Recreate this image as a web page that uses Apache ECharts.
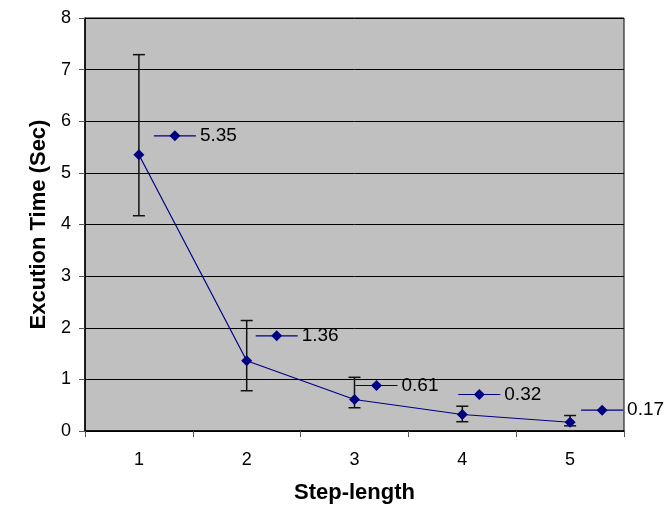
<!DOCTYPE html>
<html>
<head>
<meta charset="utf-8">
<script src="https://cdn.jsdelivr.net/npm/echarts@6/dist/echarts.min.js"></script>
<style>
html,body{margin:0;padding:0;background:#fff;}
#chart{width:668px;height:509px;}
</style>
</head>
<body>
<div id="chart"></div>
<script>
// ---- data ----
var categories = ['1', '2', '3', '4', '5'];
var times = [5.35, 1.36, 0.61, 0.32, 0.17];
var errLow = [4.17, 0.78, 0.45, 0.18, 0.10];
var errHigh = [7.29, 2.14, 1.04, 0.48, 0.30];
var valueLabels = ['5.35', '1.36', '0.61', '0.32', '0.17'];
var yTicks = [0, 1, 2, 3, 4, 5, 6, 7, 8];

// ---- layout (pixel offsets of each legend-key label from its point) ----
var labelOffsets = [[15, -19], [9, -25], [1, -14], [-4, -20], [11, -12]];

var FONT = "'Liberation Sans', Arial, sans-serif";
var NAVY = '#000080';

var chart = echarts.init(document.getElementById('chart'), null, {renderer: 'canvas'});

var errData = categories.map(function (c, i) { return [i, errLow[i], errHigh[i]]; });
var labelData = categories.map(function (c, i) { return [i, times[i]]; });

var option = {
  animation: false,
  backgroundColor: '#ffffff',
  grid: {
    left: 85, right: 44, top: 18, bottom: 76,
    show: true, backgroundColor: '#C0C0C0', borderColor: '#000', borderWidth: 1
  },
  xAxis: {
    type: 'category',
    data: categories,
    boundaryGap: true,
    name: 'Step-length',
    nameLocation: 'middle',
    nameGap: 51,
    nameTextStyle: {fontFamily: FONT, fontSize: 22, fontWeight: 'bold', color: '#000'},
    axisLine: {lineStyle: {color: '#000', width: 1.5}},
    axisTick: {show: true, alignWithLabel: false, length: 6, lineStyle: {color: '#555'}},
    axisLabel: {fontFamily: FONT, fontSize: 18, color: '#000', margin: 20},
    splitLine: {show: false}
  },
  yAxis: {
    type: 'value',
    min: yTicks[0], max: yTicks[yTicks.length - 1], interval: 1,
    name: 'Excution Time (Sec)',
    nameLocation: 'middle',
    nameGap: 35,
    nameTextStyle: {fontFamily: FONT, fontSize: 22, fontWeight: 'bold', color: '#000'},
    axisLine: {show: true, lineStyle: {color: '#000', width: 1.5}},
    axisTick: {show: true, inside: false, length: 6, lineStyle: {color: '#555'}},
    axisLabel: {fontFamily: FONT, fontSize: 18, color: '#000', margin: 14},
    splitLine: {show: true, lineStyle: {color: '#000', width: 1}}
  },
  series: [
    {
      type: 'custom',
      name: 'error',
      data: errData,
      z: 2,
      renderItem: function (params, api) {
        var x = api.value(0);
        var lo = api.coord([x, api.value(1)]);
        var hi = api.coord([x, api.value(2)]);
        var hw = 6;
        var st = {stroke: '#111', lineWidth: 1.5};
        return {
          type: 'group',
          children: [
            {type: 'line', shape: {x1: lo[0], y1: lo[1], x2: hi[0], y2: hi[1]}, style: st},
            {type: 'line', shape: {x1: lo[0] - hw, y1: lo[1], x2: lo[0] + hw, y2: lo[1]}, style: st},
            {type: 'line', shape: {x1: hi[0] - hw, y1: hi[1], x2: hi[0] + hw, y2: hi[1]}, style: st}
          ]
        };
      }
    },
    {
      type: 'line',
      name: 'time',
      data: times,
      z: 3,
      symbol: 'diamond',
      symbolSize: 11,
      itemStyle: {color: NAVY},
      lineStyle: {color: NAVY, width: 1.2}
    },
    {
      type: 'custom',
      name: 'labels',
      data: labelData,
      z: 4,
      renderItem: function (params, api) {
        var i = params.dataIndex;
        var p = api.coord([api.value(0), api.value(1)]);
        var x0 = p[0] + labelOffsets[i][0];
        var y0 = p[1] + labelOffsets[i][1];
        var len = 42;
        var s = 5.5;
        var cx = x0 + len / 2;
        return {
          type: 'group',
          children: [
            {type: 'line', shape: {x1: x0, y1: y0, x2: x0 + len, y2: y0}, style: {stroke: NAVY, lineWidth: 1.2}},
            {type: 'polygon', shape: {points: [[cx, y0 - s], [cx + s, y0], [cx, y0 + s], [cx - s, y0]]}, style: {fill: NAVY}},
            {type: 'text', x: x0 + len + 4, y: y0, style: {
              text: valueLabels[i], fontFamily: FONT, fontSize: 19, fill: '#000',
              verticalAlign: 'middle', align: 'left'
            }}
          ]
        };
      }
    }
  ]
};
chart.setOption(option);
</script>
</body>
</html>
